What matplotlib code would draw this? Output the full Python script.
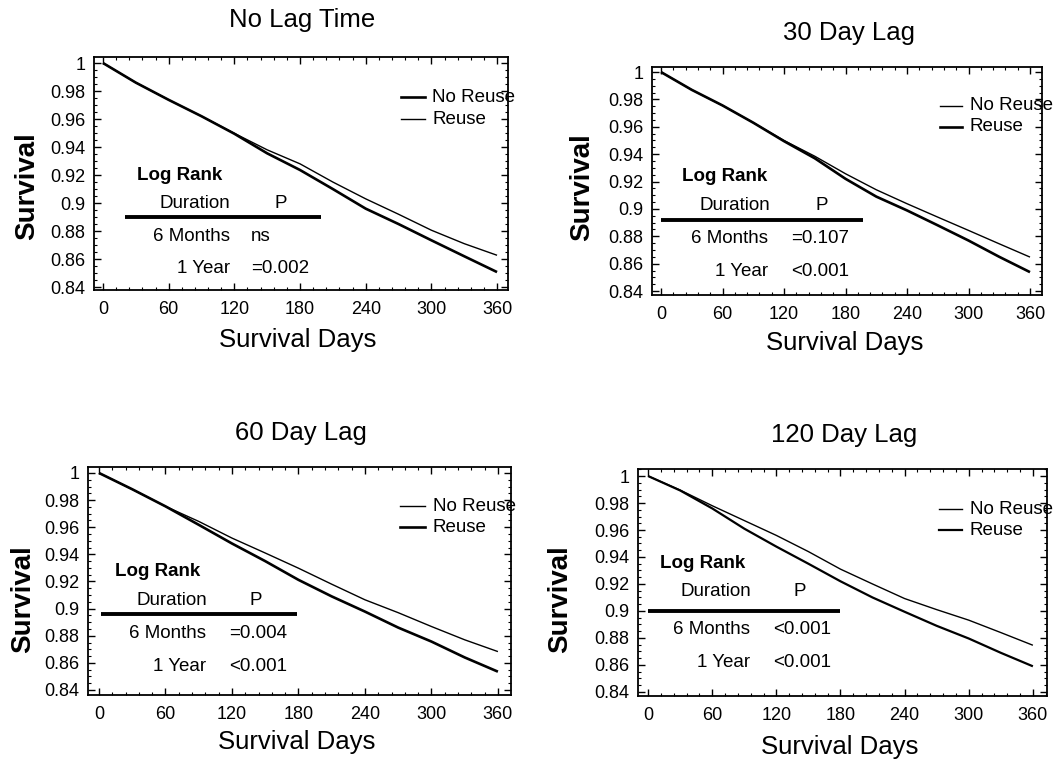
import matplotlib
matplotlib.use("Agg")
import matplotlib.pyplot as plt
from matplotlib.ticker import MultipleLocator, FuncFormatter

plt.rcParams["font.family"] = ["Liberation Sans", "DejaVu Sans"]

# Data (survival at 30-day steps)
days = [0, 30, 60, 90, 120, 150, 180, 210, 240, 270, 300, 330, 360]

titles = ["No Lag Time", "30 Day Lag", "60 Day Lag", "120 Day Lag"]

nolag_reuse = [1.0, 0.986, 0.9737, 0.962, 0.9498, 0.938, 0.928, 0.915, 0.903, 0.892, 0.8806, 0.871, 0.8627]
nolag_noreuse = [1.0, 0.986, 0.9737, 0.962, 0.9495, 0.9355, 0.9236, 0.910, 0.896, 0.885, 0.8734, 0.862, 0.8507]

lag30_noreuse = [1.0, 0.987, 0.9756, 0.963, 0.950, 0.9385, 0.9257, 0.914, 0.9038, 0.894, 0.8843, 0.8745, 0.8648]
lag30_reuse = [1.0, 0.987, 0.9756, 0.963, 0.9495, 0.937, 0.922, 0.909, 0.8989, 0.888, 0.8769, 0.865, 0.8538]

lag60_noreuse = [1.0, 0.988, 0.9754, 0.9643, 0.952, 0.941, 0.9298, 0.918, 0.9065, 0.897, 0.8868, 0.877, 0.8683]
lag60_reuse = [1.0, 0.988, 0.9754, 0.9618, 0.948, 0.935, 0.9212, 0.909, 0.8978, 0.886, 0.8757, 0.864, 0.8535]

lag120_noreuse = [1.0, 0.9896, 0.978, 0.967, 0.956, 0.944, 0.931, 0.920, 0.9092, 0.901, 0.8932, 0.884, 0.8746]
lag120_reuse = [1.0, 0.9893, 0.976, 0.961, 0.9477, 0.935, 0.922, 0.910, 0.8994, 0.889, 0.8796, 0.869, 0.859]

p_6months = ["ns", "=0.107", "=0.004", "<0.001"]
p_1year = ["=0.002", "<0.001", "<0.001", "<0.001"]

x_ticks = [0, 60, 120, 180, 240, 300, 360]
y_ticks = [0.84, 0.86, 0.88, 0.9, 0.92, 0.94, 0.96, 0.98, 1.0]

# --------------------------
# layout (pixels measured on the 1055x759 reference)
# --------------------------
W, H = 1055, 759
axes_px = [(94, 57, 508, 290), (652, 67, 1042, 295), (88, 467, 511, 695), (638, 469, 1047, 696)]
xlims = [(-8.2, 370), (-8.8, 371.7), (-9.9, 371.8), (-9.4, 373.2)]
ylims = [(0.8379, 1.0043), (0.8371, 1.0037), (0.8363, 1.0044), (0.837, 1.0052)]
title_px = [(302, 20), (849, 33), (301, 433), (844, 435)]
xlabel_px = [(298, 340), (845, 343), (297, 742), (840, 747)]
ylabel_px = [(27, 186), (582, 187), (23, 599), (560, 599)]

# (label, values, line width) for each panel
series = [
    [("No Reuse", nolag_noreuse, 1.9), ("Reuse", nolag_reuse, 1.0)],
    [("No Reuse", lag30_noreuse, 1.0), ("Reuse", lag30_reuse, 1.9)],
    [("No Reuse", lag60_noreuse, 1.0), ("Reuse", lag60_reuse, 1.9)],
    [("No Reuse", lag120_noreuse, 1.0), ("Reuse", lag120_reuse, 1.6)],
]

# table placement in data units
tables = [
    dict(lr=(31, 0.920), du=(84, 0.900), px=162, line=(20, 199, 0.8897), rx=116, vx=135, rows=(0.876, 0.853)),
    dict(lr=(20.5, 0.924), du=(72, 0.9028), px=157, line=(0, 197, 0.892), rx=104.5, vx=126.5, rows=(0.8787, 0.854)),
    dict(lr=(14.4, 0.927), du=(65.6, 0.9063), px=141.7, line=(1.8, 178.3, 0.8958), rx=96.6, vx=117.6, rows=(0.8818, 0.8572)),
    dict(lr=(11.2, 0.9353), du=(63.6, 0.9143), px=142, line=(0, 180, 0.9002), rx=95.4, vx=116.6, rows=(0.8864, 0.8617)),
]

fig = plt.figure(figsize=(W / 100, H / 100), dpi=100)


def fmt_y(v, pos):
    return "%g" % round(v, 2)


FS = 13.5

for i in range(4):
    l, t, r, b = axes_px[i]
    ax = fig.add_axes([l / W, 1 - b / H, (r - l) / W, (b - t) / H])
    for lab, vals, lw in series[i]:
        ax.plot(days, vals, color="black", lw=lw, solid_capstyle="butt")
    ax.set_xlim(*xlims[i])
    ax.set_ylim(*ylims[i])
    ax.set_xticks(x_ticks)
    ax.set_yticks(y_ticks)
    ax.yaxis.set_major_formatter(FuncFormatter(fmt_y))
    ax.xaxis.set_minor_locator(MultipleLocator(12))
    ax.yaxis.set_minor_locator(MultipleLocator(0.005))
    ax.tick_params(which="both", direction="in", top=True, right=True, labelsize=13)
    ax.tick_params(which="major", length=5, width=1.0)
    ax.tick_params(which="minor", length=2.5, width=0.8)
    ax.tick_params(axis="x", pad=8)
    ax.tick_params(axis="y", pad=6)
    for sp in ax.spines.values():
        sp.set_linewidth(1.3)

    # legend drawn by hand (runs over the right frame like the original)
    ly = [0.9755, 0.960]
    for k, (lab, vals, lw) in enumerate(series[i]):
        ax.plot([272, 294], [ly[k], ly[k]], color="black", lw=lw, clip_on=False)
        ax.text(301, ly[k], lab, fontsize=FS, va="center", ha="left", clip_on=False)

    # log rank table
    tb = tables[i]
    ax.text(tb["lr"][0], tb["lr"][1], "Log Rank", fontsize=FS, fontweight="bold", va="center", ha="left")
    ax.text(tb["du"][0], tb["du"][1], "Duration", fontsize=FS, va="center", ha="center")
    ax.text(tb["px"], tb["du"][1], "P", fontsize=FS, va="center", ha="center")
    ax.plot([tb["line"][0], tb["line"][1]], [tb["line"][2]] * 2, color="black", lw=2.8, solid_capstyle="butt")
    ax.text(tb["rx"], tb["rows"][0], "6 Months", fontsize=FS, va="center", ha="right")
    ax.text(tb["vx"], tb["rows"][0], p_6months[i], fontsize=FS, va="center", ha="left")
    ax.text(tb["rx"], tb["rows"][1], "1 Year", fontsize=FS, va="center", ha="right")
    ax.text(tb["vx"], tb["rows"][1], p_1year[i], fontsize=FS, va="center", ha="left")

    fig.text(title_px[i][0] / W, 1 - title_px[i][1] / H, titles[i], fontsize=18.5, ha="center", va="center")
    fig.text(xlabel_px[i][0] / W, 1 - xlabel_px[i][1] / H, "Survival Days", fontsize=18.5, ha="center", va="center")
    fig.text(ylabel_px[i][0] / W, 1 - ylabel_px[i][1] / H, "Survival", fontsize=20, fontweight="bold",
             rotation=90, ha="center", va="center")

fig.savefig("out.png", dpi=100)
